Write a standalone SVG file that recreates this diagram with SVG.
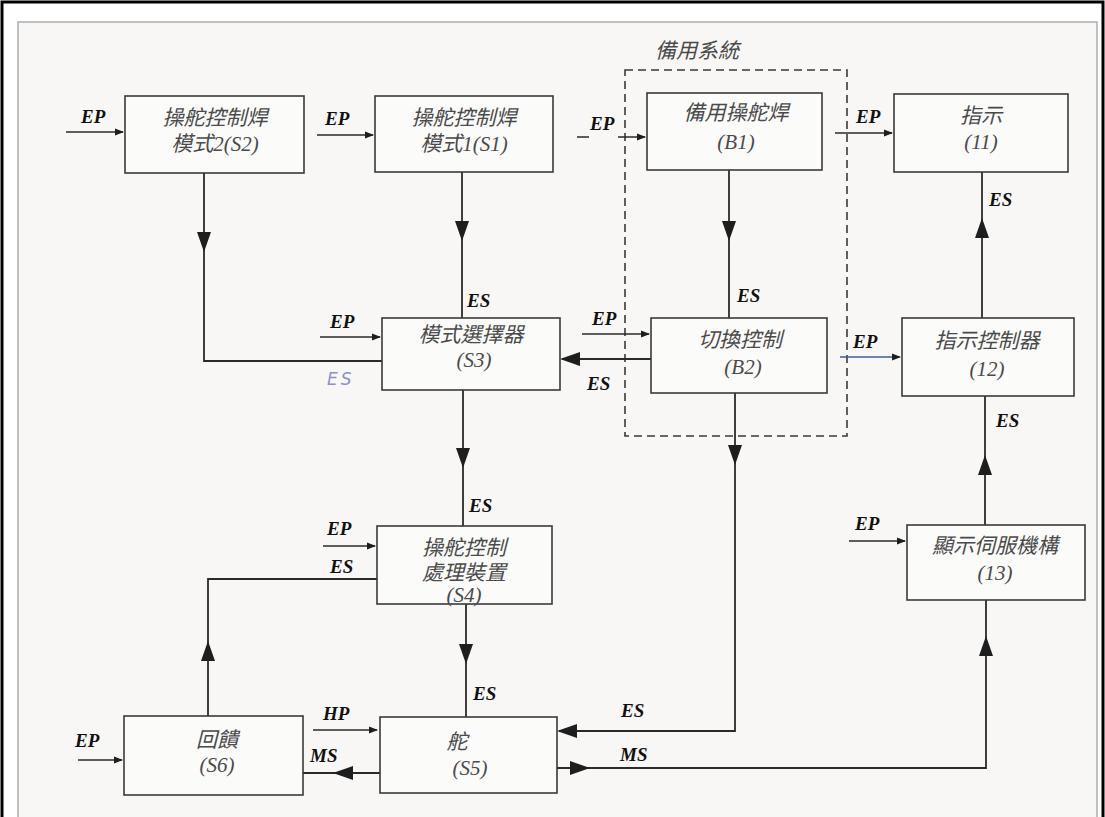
<svg xmlns="http://www.w3.org/2000/svg" xmlns:xlink="http://www.w3.org/1999/xlink" width="1105" height="817" viewBox="0 0 1105 817">
<style>
.box{fill:#fbfbfa;stroke:#3a3a3a;stroke-width:1.6}
.t{font-family:"Liberation Serif","Noto Sans CJK TC",serif;font-style:italic;font-size:21px;fill:#4a4a4a;text-anchor:middle}
.lb{font-family:"Liberation Serif","Noto Sans CJK TC",serif;font-style:italic;font-weight:bold;font-size:19px;fill:#111}
.ln{fill:none;stroke:#2a2a2a;stroke-width:1.8}
.thin{fill:none;stroke:#2a2a2a;stroke-width:1.5}
.ah{fill:#1e1e1e}
.hand{font-family:"DejaVu Sans",sans-serif;font-style:italic;font-size:17px;fill:#8a90d0;letter-spacing:3px}
</style>
<defs>
<path id="tri" d="M0,0 L-20,-7 L-20,7 Z"/>
<path id="stri" d="M0,0 L-9,-3.5 L-9,3.5 Z"/>
</defs>
<rect x="0" y="0" width="1105" height="817" fill="#ffffff"/>
<rect x="18" y="22" width="1079" height="800" fill="#f8f7f5" stroke="#9a9a9a" stroke-width="1.2"/>
<path d="M2,817 L2,2 L1103,2 L1103,817" fill="none" stroke="#000" stroke-width="3"/>

<g id="backup-system">
<rect x="625" y="70" width="222" height="366" fill="none" stroke="#3a3a3a" stroke-width="1.6" stroke-dasharray="8 5"/>
<text class="t" x="697" y="58">備用系統</text>
</g>

<g id="connectors">
<!-- EP inputs -->
<path class="thin" d="M66,132 H123"/><use xlink:href="#stri" class="ah" transform="translate(124,132)"/>
<text class="lb" x="81" y="123">EP</text>
<path class="thin" d="M317,135 H373"/><use xlink:href="#stri" class="ah" transform="translate(374,135)"/>
<text class="lb" x="325" y="125">EP</text>
<path class="thin" d="M577,137 H589 M618,137 H645"/><use xlink:href="#stri" class="ah" transform="translate(646,137)"/>
<text class="lb" x="590" y="130">EP</text>
<path class="thin" d="M835,133 H892"/><use xlink:href="#stri" class="ah" transform="translate(893,133)"/>
<text class="lb" x="856" y="123">EP</text>
<path class="thin" d="M320,337 H380"/><use xlink:href="#stri" class="ah" transform="translate(381,337)"/>
<text class="lb" x="330" y="328">EP</text>
<path class="thin" d="M582,334 H649"/><use xlink:href="#stri" class="ah" transform="translate(650,334)"/>
<text class="lb" x="592" y="325">EP</text>
<path d="M840,357 H900" fill="none" stroke="#3f5f8f" stroke-width="1.6"/><use xlink:href="#stri" class="ah" transform="translate(901,357)"/>
<text class="lb" x="853" y="348">EP</text>
<path class="thin" d="M849,541 H905"/><use xlink:href="#stri" class="ah" transform="translate(906,541)"/>
<text class="lb" x="855" y="530">EP</text>
<path class="thin" d="M323,546 H375"/><use xlink:href="#stri" class="ah" transform="translate(376,546)"/>
<text class="lb" x="327" y="535">EP</text>
<path class="thin" d="M78,760 H122"/><use xlink:href="#stri" class="ah" transform="translate(123,760)"/>
<text class="lb" x="75" y="747">EP</text>
<path class="thin" d="M313,730 H377"/><use xlink:href="#stri" class="ah" transform="translate(378,730)"/>
<text class="lb" x="323" y="720">HP</text>

<!-- S2 to S3 feedback -->
<path class="ln" d="M204,173 V361 H382"/>
<use xlink:href="#tri" class="ah" transform="translate(204,252) rotate(90)"/>
<text class="hand" x="327" y="385">ES</text>

<!-- S1 to S3 -->
<path class="ln" d="M462,172 V318"/>
<use xlink:href="#tri" class="ah" transform="translate(462,241) rotate(90)"/>
<text class="lb" x="467" y="307">ES</text>

<!-- B1 to B2 -->
<path class="ln" d="M729,170 V318"/>
<use xlink:href="#tri" class="ah" transform="translate(729,241) rotate(90)"/>
<text class="lb" x="737" y="302">ES</text>

<!-- B2 to S3 -->
<path class="ln" d="M651,359 H562"/>
<use xlink:href="#tri" class="ah" transform="translate(560,359) rotate(180)"/>
<text class="lb" x="587" y="390">ES</text>

<!-- 12 to 11 -->
<path class="ln" d="M982,318 V172"/>
<use xlink:href="#tri" class="ah" transform="translate(982,218) rotate(-90)"/>
<text class="lb" x="989" y="206">ES</text>

<!-- 13 to 12 -->
<path class="ln" d="M985,525 V396"/>
<use xlink:href="#tri" class="ah" transform="translate(985,455) rotate(-90)"/>
<text class="lb" x="996" y="427">ES</text>

<!-- S3 to S4 -->
<path class="ln" d="M463,390 V526"/>
<use xlink:href="#tri" class="ah" transform="translate(463,468) rotate(90)"/>
<text class="lb" x="469" y="512">ES</text>

<!-- S4 to S5 -->
<path class="ln" d="M466,604 V717"/>
<use xlink:href="#tri" class="ah" transform="translate(466,664) rotate(90)"/>
<text class="lb" x="473" y="700">ES</text>

<!-- S6 to S4 -->
<path class="ln" d="M208,716 V579 H377"/>
<use xlink:href="#tri" class="ah" transform="translate(208,641) rotate(-90)"/>
<text class="lb" x="330" y="573">ES</text>

<!-- B2 to S5 -->
<path class="ln" d="M735,393 V731 H559"/>
<use xlink:href="#tri" class="ah" transform="translate(735,465) rotate(90)"/>
<use xlink:href="#tri" class="ah" transform="translate(557,731) rotate(180)"/>
<text class="lb" x="621" y="717">ES</text>

<!-- S5 to S6 -->
<path class="ln" d="M380,773 H303"/>
<use xlink:href="#tri" class="ah" transform="translate(333,773) rotate(180)"/>
<text class="lb" x="310" y="762">MS</text>

<!-- S5 to 13 -->
<path class="ln" d="M557,768 H986 V600"/>
<use xlink:href="#tri" class="ah" transform="translate(590,768)"/>
<use xlink:href="#tri" class="ah" transform="translate(986,636) rotate(-90)"/>
<text class="lb" x="620" y="761">MS</text>
</g>

<g id="S2"><rect class="box" x="125" y="96" width="179" height="77"/>
<text class="t" x="215" y="125">操舵控制焊</text><text class="t" x="215" y="151">模式2(S2)</text></g>
<g id="S1"><rect class="box" x="375" y="96" width="178" height="76"/>
<text class="t" x="464" y="125">操舵控制焊</text><text class="t" x="464" y="151">模式1(S1)</text></g>
<g id="B1"><rect class="box" x="647" y="93" width="175" height="77"/>
<text class="t" x="736" y="120">備用操舵焊</text><text class="t" x="736" y="149">(B1)</text></g>
<g id="N11"><rect class="box" x="894" y="94" width="174" height="78"/>
<text class="t" x="981" y="123">指示</text><text class="t" x="981" y="149">(11)</text></g>
<g id="S3"><rect class="box" x="382" y="318" width="178" height="72"/>
<text class="t" x="471" y="342">模式選擇器</text><text class="t" x="474" y="367">(S3)</text></g>
<g id="B2"><rect class="box" x="651" y="318" width="176" height="75"/>
<text class="t" x="740" y="347">切換控制</text><text class="t" x="743" y="374">(B2)</text></g>
<g id="N12"><rect class="box" x="902" y="318" width="172" height="78"/>
<text class="t" x="987" y="348">指示控制器</text><text class="t" x="987" y="376">(12)</text></g>
<g id="S4"><rect class="box" x="377" y="526" width="175" height="78"/>
<text class="t" x="464" y="555">操舵控制</text><text class="t" x="464" y="580">處理裝置</text><text class="t" x="464" y="602">(S4)</text></g>
<g id="N13"><rect class="box" x="907" y="525" width="178" height="75"/>
<text class="t" x="995" y="553">顯示伺服機構</text><text class="t" x="995" y="580">(13)</text></g>
<g id="S6"><rect class="box" x="124" y="716" width="179" height="79"/>
<text class="t" x="217" y="747">回饋</text><text class="t" x="217" y="772">(S6)</text></g>
<g id="S5"><rect class="box" x="380" y="717" width="177" height="76"/>
<text class="t" x="457" y="749">舵</text><text class="t" x="470" y="775">(S5)</text></g>
</svg>
